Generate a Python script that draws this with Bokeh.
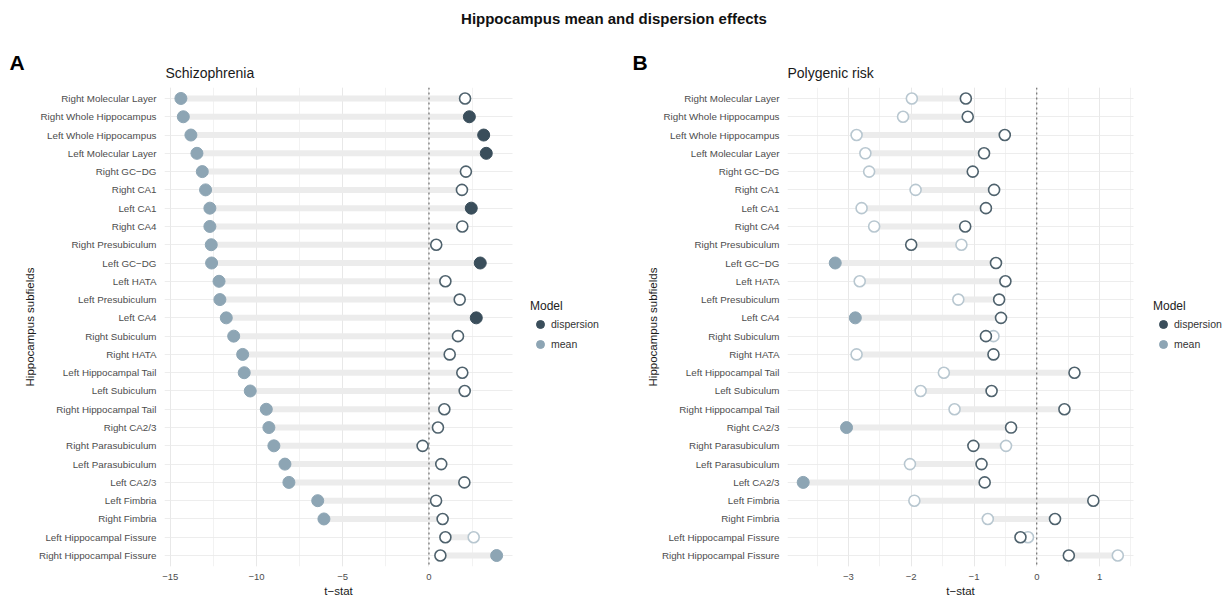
from bokeh.plotting import figure
from bokeh.models import (Range1d, FactorRange, Span, Legend, LegendItem, Label, Grid,
                          SingleIntervalTicker, ColumnDataSource)
from bokeh.core.properties import value
from bokeh.layouts import column, row
from bokeh.embed import file_html
from bokeh.resources import INLINE

# ---------------- data ----------------
regions = [
    "Right Molecular Layer", "Right Whole Hippocampus", "Left Whole Hippocampus",
    "Left Molecular Layer", "Right GC\u2212DG", "Right CA1", "Left CA1", "Right CA4",
    "Right Presubiculum", "Left GC\u2212DG", "Left HATA", "Left Presubiculum", "Left CA4",
    "Right Subiculum", "Right HATA", "Left Hippocampal Tail", "Left Subiculum",
    "Right Hippocampal Tail", "Right CA2/3", "Right Parasubiculum", "Left Parasubiculum",
    "Left CA2/3", "Left Fimbria", "Right Fimbria", "Left Hippocampal Fissure",
    "Right Hippocampal Fissure",
]

scz_mean = [-14.38, -14.24, -13.80, -13.45, -13.14, -12.95, -12.70, -12.70, -12.62, -12.60,
            -12.17, -12.12, -11.75, -11.32, -10.80, -10.71, -10.36, -9.43, -9.28, -8.99,
            -8.35, -8.12, -6.45, -6.09, 2.59, 3.92]
scz_disp = [2.09, 2.34, 3.17, 3.32, 2.14, 1.91, 2.45, 1.93, 0.42, 2.97,
            0.95, 1.78, 2.74, 1.68, 1.20, 1.93, 2.07, 0.89, 0.52, -0.37,
            0.71, 2.05, 0.41, 0.79, 0.95, 0.66]
scz_mean_sig = [True] * 24 + [False, True]
scz_disp_sig = [False, True, True, True, False, False, True, False, False, True,
                False, False, True, False, False, False, False, False, False, False,
                False, False, False, False, False, False]

prs_mean = [-1.99, -2.13, -2.87, -2.73, -2.67, -1.93, -2.79, -2.59, -1.20, -3.21,
            -2.82, -1.25, -2.89, -0.69, -2.87, -1.48, -1.85, -1.31, -3.03, -0.49,
            -2.02, -3.72, -1.95, -0.78, -0.14, 1.29]
prs_disp = [-1.13, -1.10, -0.51, -0.84, -1.02, -0.68, -0.81, -1.14, -2.00, -0.65,
            -0.50, -0.60, -0.57, -0.81, -0.69, 0.60, -0.72, 0.44, -0.41, -1.01,
            -0.88, -0.83, 0.90, 0.29, -0.26, 0.51]
prs_mean_sig = [False, False, False, False, False, False, False, False, False, True,
                False, False, True, False, False, False, False, False, True, False,
                False, True, False, False, False, False]
prs_disp_sig = [False] * 26

models = ["dispersion", "mean"]

# ---------------- style ----------------
FONT = "Liberation Sans"
DISP_COL = "#3a4e5b"
MEAN_COL = "#8da5b4"
DISP_OPEN = "#4f626d"
MEAN_OPEN = "#b8c7d0"
SEG_COL = "#ececec"
GRID_COL = "#e8e8e8"
MINOR_COL = "#f2f2f2"
HDR_H = 82
FOOT_H = 12
PANEL_H = 596 - HDR_H - FOOT_H


def minus(v):
    return str(int(v)).replace("-", "\u2212")


def make_panel(mean, disp, mean_sig, disp_sig, x_start, x_stop, interval, tick_vals,
               left, data_w, width, legend_dx):
    # the plot frame also holds the legend strip on its right; the data area is
    # the left `data_w` pixels of the frame, i.e. x_start .. x_stop
    frame_w = width - left
    x_end = x_start + (x_stop - x_start) * frame_w / data_w
    p = figure(width=width, height=PANEL_H,
               y_range=FactorRange(factors=regions[::-1], range_padding=0.1,
                                   range_padding_units="absolute"),
               x_range=Range1d(x_start, x_end),
               output_backend="svg", toolbar_location=None,
               min_border_left=left, min_border_right=0,
               min_border_top=5, min_border_bottom=PANEL_H - 5 - 479,
               outline_line_color=None, background_fill_color="white",
               border_fill_color="white")

    # axes
    p.xaxis.ticker = SingleIntervalTicker(interval=interval, num_minor_ticks=2)
    p.xaxis.bounds = (x_start, x_stop)
    for ax in (p.xaxis, p.yaxis):
        ax.axis_line_color = None
        ax.major_tick_line_color = None
        ax.minor_tick_line_color = None
        ax.major_label_text_font = FONT
        ax.major_label_text_color = "#4d4d4d"
        ax.axis_label_text_font = FONT
        ax.axis_label_text_font_style = "normal"
        ax.axis_label_text_color = "#1a1a1a"
    p.xaxis.major_label_text_font_size = "9.5px"
    p.xaxis.major_label_standoff = 1
    p.xaxis.major_label_overrides = {v: minus(v) for v in tick_vals}
    p.yaxis.major_label_text_font_size = "9.8px"
    p.yaxis.major_label_standoff = 2
    p.yaxis.axis_label = "Hippocampus subfields"
    p.yaxis.axis_label_text_font_size = "11.5px"
    p.yaxis.axis_label_standoff = 0

    # grids restricted to the data area
    p.xgrid.bounds = (x_start, x_stop)
    p.xgrid.grid_line_color = GRID_COL
    p.xgrid.grid_line_width = 1
    p.xgrid.minor_grid_line_color = MINOR_COL
    p.xgrid.minor_grid_line_width = 1
    if "cross_bounds" in Grid.properties():
        p.ygrid.cross_bounds = (x_start, x_stop)
        p.ygrid.grid_line_color = GRID_COL
        p.ygrid.grid_line_width = 0.8
    else:
        p.ygrid.visible = False
        p.segment(x0=[x_start] * len(regions), x1=[x_stop] * len(regions),
                  y0=regions, y1=regions, line_color=GRID_COL, line_width=0.8)

    # segments between the two estimates
    seg = ColumnDataSource(dict(region=regions, mean=mean, disp=disp))
    p.segment(x0="mean", x1="disp", y0="region", y1="region", source=seg,
              line_color=SEG_COL, line_width=6)

    # zero line
    p.add_layout(Span(location=0, dimension="height", line_color="#555555",
                      line_dash="2 3", line_width=1))

    def sub(vals, flags, want):
        idx = [i for i, f in enumerate(flags) if f == want]
        return ColumnDataSource(dict(region=[regions[i] for i in idx],
                                     x=[vals[i] for i in idx]))

    # open (non-significant) points
    p.scatter(x="x", y="region", source=sub(mean, mean_sig, False), size=11,
              fill_color="white", line_color=MEAN_OPEN, line_width=1.6)
    p.scatter(x="x", y="region", source=sub(disp, disp_sig, False), size=11,
              fill_color="white", line_color=DISP_OPEN, line_width=1.6)
    # filled (significant) points
    p.scatter(x="x", y="region", source=sub(mean, mean_sig, True), size=12,
              fill_color=MEAN_COL, line_color=MEAN_COL, line_width=1)
    p.scatter(x="x", y="region", source=sub(disp, disp_sig, True), size=12,
              fill_color=DISP_COL, line_color=DISP_COL, line_width=1)

    # legend key glyphs (NaN position: not drawn in the plot area)
    nan = float("nan")
    r_d = p.scatter(x=[nan], y=[regions[0]], size=10, fill_color=DISP_COL,
                    line_color=DISP_COL)
    r_m = p.scatter(x=[nan], y=[regions[0]], size=10, fill_color=MEAN_COL,
                    line_color=MEAN_COL)
    legend = Legend(items=[LegendItem(label=value(models[0]), renderers=[r_d]),
                           LegendItem(label=value(models[1]), renderers=[r_m])],
                    title="Model", location=(data_w + legend_dx, 212),
                    orientation="vertical",
                    margin=0, padding=4, spacing=0,
                    glyph_width=20, glyph_height=20, label_standoff=1,
                    label_height=20, label_text_font=FONT, label_text_font_size="10.5px",
                    label_text_color="#333333",
                    title_text_font=FONT, title_text_font_size="12px",
                    title_text_font_style="normal", title_text_color="#222222",
                    title_standoff=1,
                    border_line_color=None, background_fill_alpha=0)
    p.add_layout(legend)
    return p


pA = make_panel(scz_mean, scz_disp, scz_mean_sig, scz_disp_sig,
                -15.33, 4.84, 5, [-15, -10, -5, 0], 164, 348, 620, 18)
pB = make_panel(prs_mean, prs_disp, prs_mean_sig, prs_disp_sig,
                -3.97, 1.54, 1, [-3, -2, -1, 0, 1], 167, 346, 607, 20)

# header with overall title, panel tags and subtitles
hdr = figure(width=1227, height=HDR_H, x_range=Range1d(0, 1227), y_range=Range1d(HDR_H, 0),
             toolbar_location=None, output_backend="svg",
             x_axis_location=None, y_axis_location=None, min_border=0,
             outline_line_color=None)
hdr.grid.visible = False
hdr.add_layout(Label(x=613.5, y=18, text="Hippocampus mean and dispersion effects",
                     text_font=FONT, text_font_size="15px", text_font_style="bold",
                     text_align="center", text_baseline="middle", text_color="#111111"))
for tx, ty, t in [(9, 62, "A"), (632, 62, "B")]:
    hdr.add_layout(Label(x=tx, y=ty, text=t, text_font=FONT, text_font_size="21px",
                         text_font_style="bold", text_align="left",
                         text_baseline="middle", text_color="#000000"))
for tx, t in [(165, "Schizophrenia"), (787, "Polygenic risk")]:
    hdr.add_layout(Label(x=tx, y=72, text=t, text_font=FONT, text_font_size="14px",
                         text_align="left", text_baseline="middle",
                         text_color="#1a1a1a"))

# footer with the x axis titles (centred under each data area)
ftr = figure(width=1227, height=FOOT_H, x_range=Range1d(0, 1227), y_range=Range1d(FOOT_H, 0),
             toolbar_location=None, output_backend="svg",
             x_axis_location=None, y_axis_location=None, min_border=0,
             outline_line_color=None)
ftr.grid.visible = False
for cx in (164 + 348 / 2, 620 + 167 + 346 / 2):
    ftr.add_layout(Label(x=cx, y=6, text="t\u2212stat", text_font=FONT,
                         text_font_size="11.5px", text_align="center",
                         text_baseline="middle", text_color="#1a1a1a"))

layout = column(hdr, row(pA, pB, spacing=0), ftr, spacing=0)

with open("out.html", "w") as f:
    f.write(file_html(layout, INLINE))
